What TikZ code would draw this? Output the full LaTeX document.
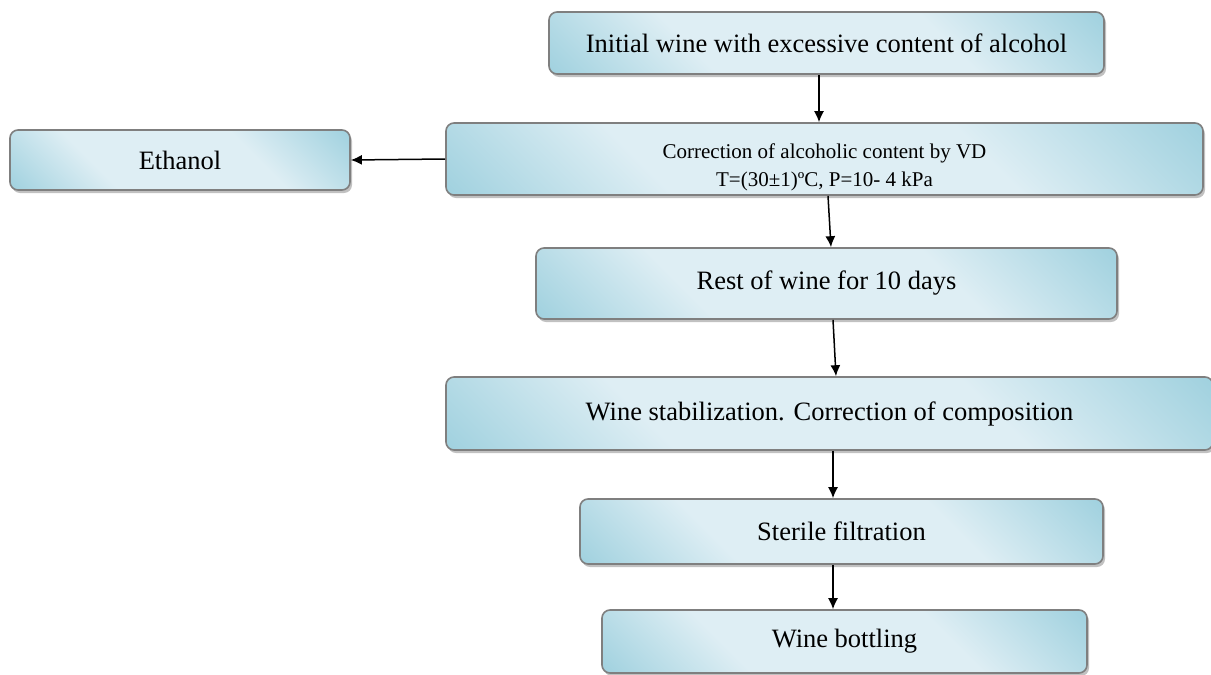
\documentclass[tikz,border=0pt]{standalone}
\usepackage{fontspec}
\setmainfont{Liberation Serif}
\usepackage{tikz}
\usetikzlibrary{arrows.meta,positioning,calc,shadows}
\definecolor{boxlight}{HTML}{DEEEF4}
\definecolor{boxdark}{HTML}{9ED0DE}
\definecolor{boxedge}{HTML}{7F7F7F}
\pgfdeclarehorizontalshading{boxglow}{100bp}{color(0bp)=(boxdark); color(14bp)=(boxdark);
  color(34bp)=(boxlight); color(64bp)=(boxlight); color(86bp)=(boxdark); color(100bp)=(boxdark)}
\tikzstyle{procbox}=[draw=boxedge,line width=1.6pt,rounded corners=8pt,
  shading=boxglow,shading angle=45,
  drop shadow={shadow xshift=2pt,shadow yshift=-3pt,fill=boxedge!60,opacity=0.8},
  align=center,inner sep=0pt,font=\fontsize{26.5}{30}\selectfont]
\tikzstyle{flow}=[line width=1.5pt,-{Latex[length=11pt,width=10pt]}]

\begin{document}
\begin{tikzpicture}[x=1pt,y=-1pt]
\useasboundingbox (0,0) rectangle (1211,675);
\node [procbox, minimum width=555pt, minimum height=62pt] (init) at (826.5,43) {Initial wine with excessive content of alcohol};
\node [procbox, minimum width=757pt, minimum height=72pt, font=\fontsize{21}{28}\selectfont] (corr) at (824.5,159) {\rule{0pt}{32pt}Correction of alcoholic content by VD\\T=(30±1)ºC, P=10- 4 kPa};
\node [procbox, minimum width=340pt, minimum height=60pt] (ethanol) at (180,160) {Ethanol};
\node [procbox, minimum width=581pt, minimum height=71pt] (rest) at (826.5,283.5) {Rest of wine for 10 days};
\node [procbox, minimum width=767pt, minimum height=73pt] (stab) at (829.5,413.5) {Wine stabilization. Correction of composition};
\node [procbox, minimum width=523pt, minimum height=65pt] (steril) at (841.5,531.5) {Sterile filtration};
\node [procbox, minimum width=485pt, minimum height=63pt] (bottl) at (844.5,641.5) {Wine bottling};

\draw [flow] ([xshift=-7.5pt]init.south) -- ([xshift=-5.5pt]corr.north);
\draw [flow] (corr.west) -- (ethanol.east);
\draw [flow] ([xshift=3.5pt]corr.south) -- ([xshift=4.5pt]rest.north);
\draw [flow] ([xshift=6.5pt]rest.south) -- ([xshift=6.5pt]stab.north);
\draw [flow] ([xshift=3.5pt]stab.south) -- ([xshift=-8.5pt]steril.north);
\draw [flow] ([xshift=-8.5pt]steril.south) -- ([xshift=-11.5pt]bottl.north);
\end{tikzpicture}
\end{document}
